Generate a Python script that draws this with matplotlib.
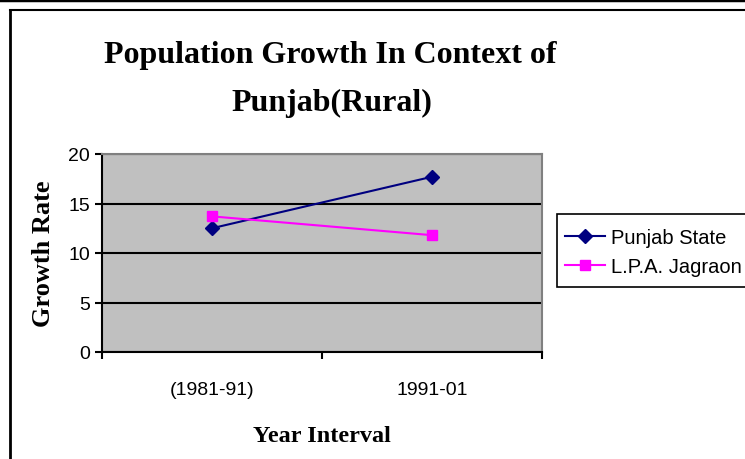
import matplotlib
matplotlib.use('Agg')
import matplotlib.pyplot as plt
import matplotlib.lines as mlines
import matplotlib.patches as mpatches

# data
categories = ['(1981-91)', '1991-01']
punjab_state = [12.5, 17.7]
lpa_jagraon = [13.7, 11.8]
yticks = [0, 5, 10, 15, 20]

# =============================================================================
# Plot
# =============================================================================
fig = plt.figure(figsize=(7.45, 4.6), dpi=100)
W, H = 745.0, 460.0
ax = fig.add_axes([102 / W, 1 - 353 / H, 440 / W, 198 / H])

ax.set_facecolor('#c0c0c0')
xpos = [i + 0.5 for i in range(len(categories))]
ax.plot(xpos, punjab_state, color='#000080', marker='D', markersize=7,
        linewidth=1.5, label='Punjab State', zorder=3)
ax.plot(xpos, lpa_jagraon, color='#ff00ff', marker='s', markersize=7,
        linewidth=1.5, label='L.P.A. Jagraon', zorder=3)

ax.set_xlim(0, len(categories))
ax.set_ylim(0, 20)
ax.set_yticks(yticks)
ax.set_xticks(range(len(categories) + 1))
ax.set_xticklabels([])
ax.set_xticks(xpos, minor=True)
ax.set_xticklabels(categories, minor=True)
ax.tick_params(axis='x', which='minor', length=0, pad=21)
ax.tick_params(axis='both', which='major', length=5, width=1.5, color='black',
               direction='out')
for lab in ax.get_xticklabels(minor=True) + ax.get_yticklabels():
    lab.set_fontfamily('Liberation Sans')
    lab.set_fontsize(14)
ax.grid(axis='y', color='black', linewidth=1.5)
ax.set_axisbelow(True)

for s in ['top', 'right']:
    ax.spines[s].set_color('#808080')
    ax.spines[s].set_linewidth(1.5)
for s in ['left', 'bottom']:
    ax.spines[s].set_color('black')
    ax.spines[s].set_linewidth(1.5)

ax.set_ylabel('Growth Rate', fontfamily='Liberation Serif', fontweight='bold',
              fontsize=19, labelpad=10)
ax.set_xlabel('Year Interval', fontfamily='Liberation Serif', fontweight='bold',
              fontsize=17.5, labelpad=19)

fig.text(330 / W, 1 - 55 / H, 'Population Growth In Context of',
         ha='center', va='center', fontfamily='Liberation Serif',
         fontweight='bold', fontsize=23)
fig.text(332 / W, 1 - 103 / H, 'Punjab(Rural)',
         ha='center', va='center', fontfamily='Liberation Serif',
         fontweight='bold', fontsize=23)

# legend: box drawn by hand, entries without frame
fig.add_artist(mpatches.Rectangle((557 / W, 1 - 288 / H), 200 / W, 73 / H,
                                  facecolor='white', edgecolor='black',
                                  linewidth=1.2, transform=fig.transFigure,
                                  zorder=-1))
leg = ax.legend(loc='upper left', bbox_to_anchor=(565 / W, 1 - 229 / H),
                bbox_transform=fig.transFigure, frameon=False,
                prop={'family': 'Liberation Sans', 'size': 14.5},
                handlelength=2.0, borderpad=0, labelspacing=0.5,
                handletextpad=0.3, borderaxespad=0)
leg.set_zorder(5)

# outer frame
fig.add_artist(mlines.Line2D([0, 1], [1 - 1 / H, 1 - 1 / H], color='black',
                             linewidth=2.5, transform=fig.transFigure))
fig.add_artist(mlines.Line2D([10 / W, 1], [1 - 11 / H, 1 - 11 / H],
                             color='black', linewidth=1.5,
                             transform=fig.transFigure))
fig.add_artist(mlines.Line2D([10 / W, 10 / W], [0, 1 - 11 / H],
                             color='black', linewidth=2,
                             transform=fig.transFigure))

fig.savefig('out.png', dpi=100)
